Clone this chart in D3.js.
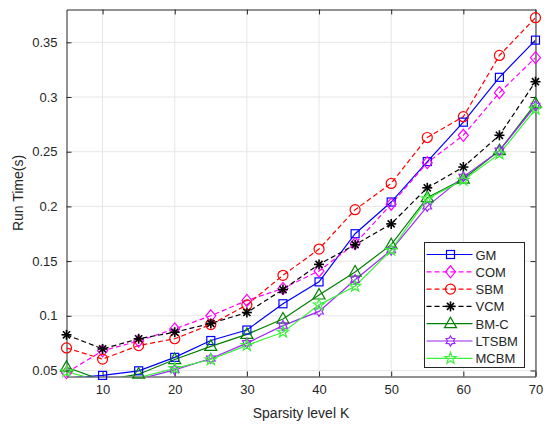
<!DOCTYPE html>
<html>
  <head>
    <style>
      body { margin: 0; background: #fff; }
      svg text { font-family: "Liberation Sans", Arial, sans-serif; fill: #262626; }
      .grid line { stroke: #e6e6e6; stroke-width: 1; }
    </style>
  </head>
  <body>
    <svg width="551" height="424"></svg>
    <script src="https://d3js.org/d3.v7.min.js"></script>
    <script>
      var sparsity = [5, 10, 15, 20, 25, 30, 35, 40, 45, 50, 55, 60, 65, 70];

      var gm    = [0.043, 0.0455, 0.0497, 0.062, 0.0774, 0.087, 0.111, 0.131, 0.175, 0.204, 0.241, 0.277, 0.318, 0.352];
      var com   = [0.048, 0.068, 0.077, 0.088, 0.100, 0.114, 0.125, 0.141, 0.166, 0.202, 0.240, 0.265, 0.304, 0.336];
      var sbm   = [0.0706, 0.0604, 0.0728, 0.079, 0.092, 0.110, 0.137, 0.161, 0.197, 0.221, 0.263, 0.282, 0.338, 0.3725];
      var vcm   = [0.0826, 0.0697, 0.079, 0.085, 0.093, 0.103, 0.124, 0.147, 0.165, 0.184, 0.217, 0.236, 0.265, 0.314];
      var bmc   = [0.053, 0.041, 0.0466, 0.060, 0.072, 0.083, 0.097, 0.119, 0.140, 0.165, 0.208, 0.225, 0.251, 0.294];
      var ltsbm = [0.043, 0.039, 0.042, 0.0506, 0.061, 0.075, 0.091, 0.104, 0.133, 0.160, 0.200, 0.227, 0.251, 0.292];
      var mcbm  = [0.049, 0.040, 0.0435, 0.052, 0.060, 0.073, 0.085, 0.110, 0.127, 0.160, 0.207, 0.224, 0.248, 0.289];

      var xTicks = [10, 20, 30, 40, 50, 60, 70];
      var yTicks = [0.05, 0.1, 0.15, 0.2, 0.25, 0.3, 0.35];
      var yTickLabels = ["0.05", "0.1", "0.15", "0.2", "0.25", "0.3", "0.35"];

      var series = [
        { name: "GM",    values: gm,    color: "#0000ff", dash: null,  marker: "square" },
        { name: "COM",   values: com,   color: "#ff00ff", dash: "5,3", marker: "diamond" },
        { name: "SBM",   values: sbm,   color: "#ff0000", dash: "5,3", marker: "circle" },
        { name: "VCM",   values: vcm,   color: "#000000", dash: "5,3", marker: "asterisk" },
        { name: "BM-C",  values: bmc,   color: "#008000", dash: null,  marker: "triangle" },
        { name: "LTSBM", values: ltsbm, color: "#9b26f5", dash: null,  marker: "hexagram" },
        { name: "MCBM",  values: mcbm,  color: "#3cf03c", dash: null,  marker: "pentagram" }
      ];

      var svg = d3.select("svg");
      var plotL = 66.5, plotR = 535.5, plotT = 9.5, plotB = 376.5;

      var x = d3.scaleLinear().domain([5, 70]).range([plotL, plotR]);
      var y = d3.scaleLinear().domain([0.0445, 0.38]).range([plotB, plotT]);

      svg.append("defs").append("clipPath").attr("id", "plot")
        .append("rect").attr("x", plotL).attr("y", plotT)
        .attr("width", plotR - plotL).attr("height", plotB - plotT);

      // grid
      var grid = svg.append("g").attr("class", "grid");
      grid.selectAll(".gx").data(xTicks).enter().append("line")
        .attr("x1", function(d) { return x(d); }).attr("x2", function(d) { return x(d); })
        .attr("y1", plotT).attr("y2", plotB);
      grid.selectAll(".gy").data(yTicks).enter().append("line")
        .attr("x1", plotL).attr("x2", plotR)
        .attr("y1", function(d) { return y(d); }).attr("y2", function(d) { return y(d); });

      // axes
      var xAxis = d3.axisBottom(x).tickValues(xTicks).tickSizeInner(-5).tickSizeOuter(0).tickPadding(8);
      var yAxis = d3.axisLeft(y).tickValues(yTicks).tickSizeInner(-5).tickSizeOuter(0).tickPadding(9)
        .tickFormat(function(d, i) { return yTickLabels[i]; });
      var xTop = d3.axisTop(x).tickValues(xTicks).tickSizeInner(-5).tickSizeOuter(0).tickFormat("");
      var yRight = d3.axisRight(y).tickValues(yTicks).tickSizeInner(-5).tickSizeOuter(0).tickFormat("");

      function styleAxis(g) {
        g.select(".domain").attr("stroke", "#262626");
        g.selectAll(".tick line").attr("stroke", "#262626");
        g.selectAll(".tick text").attr("font-size", 13).attr("fill", "#262626")
          .attr("font-family", "'Liberation Sans', Arial, sans-serif");
      }

      svg.append("g").attr("transform", "translate(0," + plotB + ")").call(xAxis).call(styleAxis);
      svg.append("g").attr("transform", "translate(" + plotL + ",0)").call(yAxis).call(styleAxis);
      svg.append("g").attr("transform", "translate(0," + plotT + ")").call(xTop).call(styleAxis);
      svg.append("g").attr("transform", "translate(" + plotR + ",0)").call(yRight).call(styleAxis);

      svg.append("text").attr("x", (plotL + plotR) / 2).attr("y", 418)
        .attr("text-anchor", "middle").attr("font-size", 14).text("Sparsity level K");
      svg.append("text").attr("transform", "translate(23," + (plotT + plotB) / 2 + ") rotate(-90)")
        .attr("text-anchor", "middle").attr("font-size", 14).text("Run Time(s)");

      function star(points, outer, inner) {
        var pts = [];
        for (var i = 0; i < points * 2; i++) {
          var r = i % 2 === 0 ? outer : inner;
          var a = -Math.PI / 2 + i * Math.PI / points;
          pts.push([r * Math.cos(a), r * Math.sin(a)]);
        }
        return "M" + pts.map(function(p) { return p.join(","); }).join("L") + "Z";
      }

      function drawMarker(g, type, color, cx, cy) {
        var m = g.append("g").attr("transform", "translate(" + cx + "," + cy + ")");
        var sty = function(sel) { sel.attr("fill", "none").attr("stroke", color).attr("stroke-width", 1.2); };
        if (type === "square") {
          m.append("rect").attr("x", -4).attr("y", -4).attr("width", 8).attr("height", 8).call(sty);
        } else if (type === "diamond") {
          m.append("path").attr("d", "M0,-6L5,0L0,6L-5,0Z").call(sty);
        } else if (type === "circle") {
          m.append("circle").attr("r", 5).call(sty);
        } else if (type === "asterisk") {
          [0, 45, 90, 135].forEach(function(a) {
            m.append("line").attr("x1", 0).attr("y1", -5).attr("x2", 0).attr("y2", 5)
              .attr("transform", "rotate(" + a + ")").attr("stroke", color).attr("stroke-width", 1.6);
          });
        } else if (type === "triangle") {
          m.append("path").attr("d", "M0,-6.5L6,4L-6,4Z").call(sty);
        } else if (type === "hexagram") {
          m.append("path").attr("d", star(6, 5, 3)).call(sty);
        } else if (type === "pentagram") {
          m.append("path").attr("d", star(5, 6, 2.4)).call(sty);
        }
      }

      var plot = svg.append("g").attr("clip-path", "url(#plot)");
      var line = d3.line()
        .x(function(d, i) { return x(sparsity[i]); })
        .y(function(d) { return y(d); });

      series.forEach(function(s) {
        plot.append("path").datum(s.values)
          .attr("d", line).attr("fill", "none")
          .attr("stroke", s.color).attr("stroke-width", 1.2)
          .attr("stroke-dasharray", s.dash);
      });
      var marks = svg.append("g");
      series.forEach(function(s) {
        s.values.forEach(function(v, i) {
          if (v < y.domain()[0]) return;
          drawMarker(marks, s.marker, s.color, x(sparsity[i]), y(v));
        });
      });

      // legend
      var lg = svg.append("g").attr("transform", "translate(424.5,242.5)");
      lg.append("rect").attr("width", 100).attr("height", 125)
        .attr("fill", "#fff").attr("stroke", "#262626").attr("stroke-width", 1);
      series.forEach(function(s, i) {
        var ly = 12 + i * 17.3;
        lg.append("line").attr("x1", 2).attr("x2", 48).attr("y1", ly).attr("y2", ly)
          .attr("stroke", s.color).attr("stroke-width", 1.2).attr("stroke-dasharray", s.dash);
        drawMarker(lg, s.marker, s.color, 26, ly);
        lg.append("text").attr("x", 51).attr("y", ly + 5).attr("font-size", 13).text(s.name);
      });
    </script>
  </body>
</html>
